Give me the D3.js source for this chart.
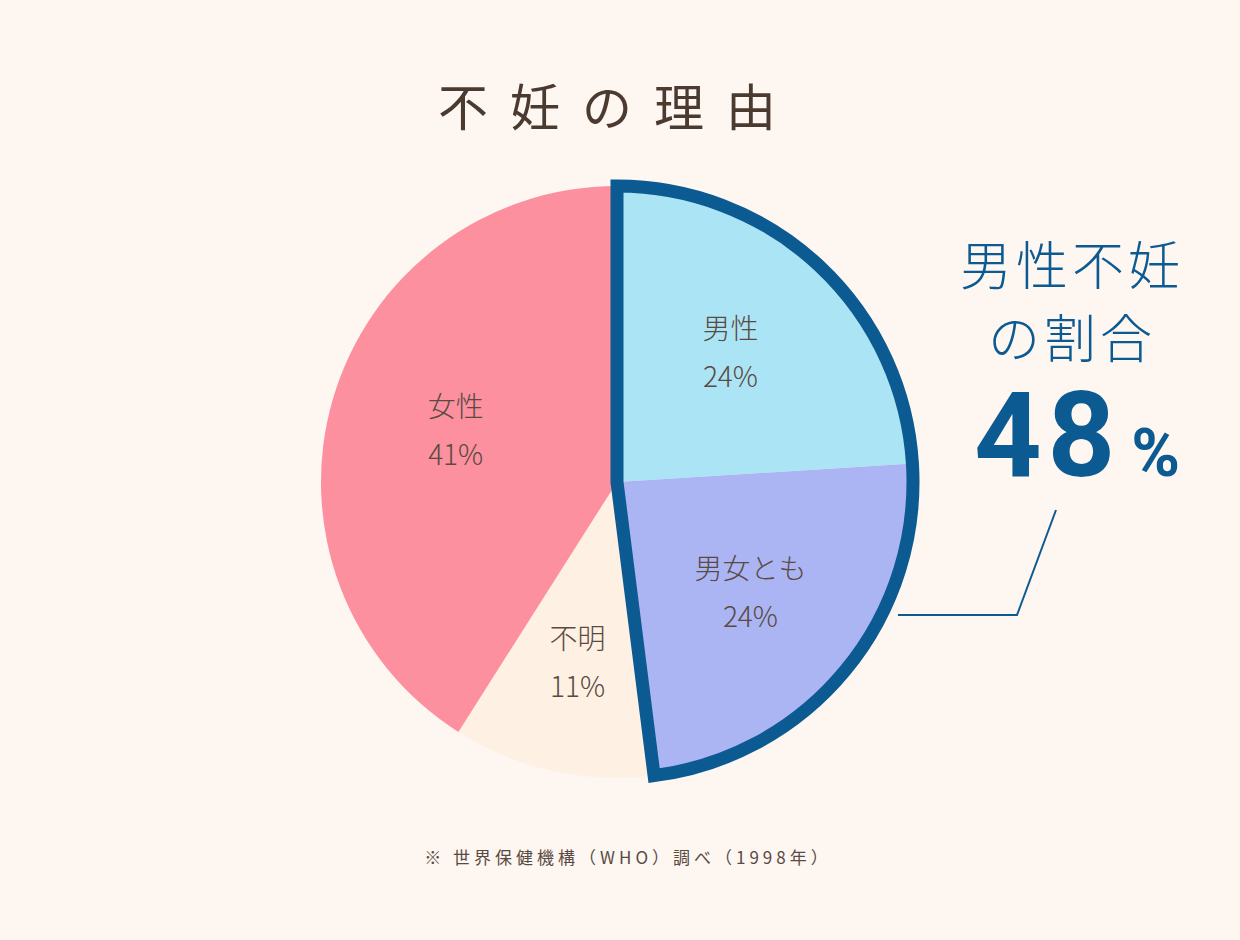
<!DOCTYPE html>
<html><head><meta charset="utf-8">
<script src="https://cdn.jsdelivr.net/npm/d3@7"></script>
<style>
body{margin:0;background:#fdf6f1;}
svg{display:block;font-family:"Noto Sans CJK JP","Noto Sans",sans-serif;}
</style></head>
<body><svg width="1240" height="940"></svg>
<script>
// データ
const categories = ["男性", "男女とも", "不明", "女性"];
const values = [24, 24, 11, 41];
const colors = ["#abe5f5", "#abb5f4", "#fef0e3", "#fc909f"];
const highlightCount = 2; // 男性 + 男女とも

const svg = d3.select("svg");
svg.append("rect").attr("width", 1240).attr("height", 940).attr("fill", "#fdf6f1");

const cx = 617, cy = 482, r = 296;
const g = svg.append("g").attr("transform", `translate(${cx},${cy})`);

const pie = d3.pie().sort(null).value(d => d.v);
const arcs = pie(categories.map((c, i) => ({c, v: values[i], col: colors[i]})));
const arc = d3.arc().innerRadius(0).outerRadius(r);

g.selectAll("path.slice").data(arcs).enter().append("path")
    .attr("class", "slice")
    .attr("d", arc)
    .attr("fill", d => d.data.col);

// 男性不妊の枠線
const hl = d3.arc().innerRadius(0).outerRadius(r)
    .startAngle(arcs[0].startAngle).endAngle(arcs[highlightCount - 1].endAngle);
g.append("path").attr("d", hl())
    .attr("fill", "none").attr("stroke", "#0c5a92").attr("stroke-width", 13)
    .attr("stroke-linejoin", "miter");

// ラベル位置の微調整
const offsets = [[2, -12], [8, 5], [-4, 20], [-5, -8]];
const labelArc = d3.arc().innerRadius(r * 0.55).outerRadius(r * 0.55);
arcs.forEach((d, i) => {
    let [x, y] = labelArc.centroid(d);
    x += offsets[i][0]; y += offsets[i][1];
    const t = g.append("text").attr("text-anchor", "middle").attr("fill", "#5a4a42")
        .attr("font-size", 28).attr("font-weight", 300);
    t.append("tspan").attr("x", x).attr("y", y - 12).text(d.data.c);
    t.append("tspan").attr("x", x).attr("y", y + 36).text(d.data.v + "%");
});

// タイトル
svg.append("text").attr("x", 618).attr("y", 126).attr("text-anchor", "middle")
    .attr("font-size", 50).attr("letter-spacing", 22).attr("fill", "#4b3a2f").text("不妊の理由");

// 吹き出し
const blue = "#0c5a92";
svg.append("polyline").attr("points", "898,615 1017,615 1056,510")
    .attr("fill", "none").attr("stroke", blue).attr("stroke-width", 2);
svg.append("text").attr("x", 1072).attr("y", 285).attr("text-anchor", "middle")
    .attr("font-size", 52).attr("font-weight", 300).attr("fill", blue).attr("letter-spacing", 4).text("男性不妊");
svg.append("text").attr("x", 1072).attr("y", 358).attr("text-anchor", "middle")
    .attr("font-size", 52).attr("font-weight", 300).attr("fill", blue).attr("letter-spacing", 4).text("の割合");
const big = svg.append("text").attr("x", 1077).attr("y", 476).attr("text-anchor", "middle")
    .attr("fill", blue).attr("font-weight", "bold").attr("font-family", "Roboto, sans-serif");
big.append("tspan").attr("font-size", 118).attr("letter-spacing", 6).text(d3.sum(values.slice(0, highlightCount)));
big.append("tspan").attr("font-size", 66).attr("dx", 10).text("%");

// 注記
svg.append("text").attr("x", 628).attr("y", 864).attr("text-anchor", "middle")
    .attr("font-size", 17).attr("fill", "#5a4a42").attr("letter-spacing", 4)
    .text("※ 世界保健機構（WHO）調べ（1998年）");
</script></body></html>
